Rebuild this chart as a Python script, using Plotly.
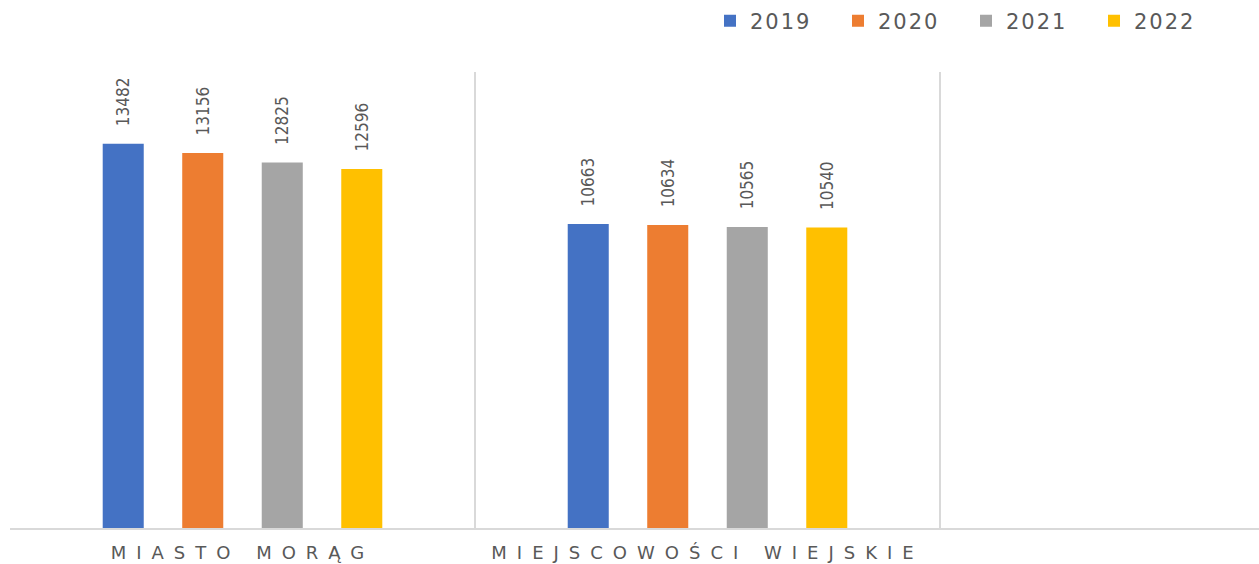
import plotly.graph_objects as go

categories = ["MIASTO MORĄG", "MIEJSCOWOŚCI WIEJSKIE"]
years = ["2019", "2020", "2021", "2022"]
values_2019 = [13482, 10663]
values_2020 = [13156, 10634]
values_2021 = [12825, 10565]
values_2022 = [12596, 10540]
series = [values_2019, values_2020, values_2021, values_2022]
colors = ["#4472C4", "#ED7D31", "#A5A5A5", "#FFC000"]

W, H = 1259, 564
TEXT = "#595959"

fig = go.Figure()
for name, vals, col in zip(years, series, colors):
    fig.add_trace(go.Bar(
        x=categories, y=vals,
        name='<span style="letter-spacing:2px">%s</span>' % name,
        marker=dict(color=col, line=dict(width=0)),
        texttemplate="\u00a0\u00a0\u00a0%{y:d}",
        textposition="outside", textangle=-90, constraintext="none",
        textfont=dict(family="DejaVu Sans Condensed, Liberation Sans Narrow, sans-serif",
                      size=17, color=TEXT),
        cliponaxis=False,
    ))

ticktext = ['<span style="letter-spacing:10px">%s</span>' % c for c in categories]

fig.update_layout(
    width=W, height=H,
    barmode="group", bargap=0.316, bargroupgap=0.484,
    plot_bgcolor="white", paper_bgcolor="white",
    margin=dict(l=10, r=0, t=72, b=36, autoexpand=False),
    showlegend=True,
    legend=dict(orientation="h", xref="container", yref="container",
                x=710 / W, xanchor="left", y=1 - 21 / H, yanchor="middle",
                font=dict(family="DejaVu Sans, sans-serif", size=21, color=TEXT),
                entrywidthmode="pixels", entrywidth=83,
                bgcolor="rgba(0,0,0,0)", traceorder="normal"),
    xaxis=dict(categoryorder="array", categoryarray=categories,
               tickmode="array", tickvals=categories, ticktext=ticktext,
               range=[-0.5, 2.186], tickson="boundaries", ticks="",
               showgrid=True, gridcolor="#D9D9D9", gridwidth=1.5,
               showline=True, linecolor="#D9D9D9", linewidth=1.5,
               tickfont=dict(family="DejaVu Sans, sans-serif", size=18, color=TEXT),
               ticklabelstandoff=8, zeroline=False, fixedrange=True, automargin=False),
    yaxis=dict(range=[0, 16000], visible=False, showgrid=False, zeroline=False, fixedrange=True),
)

fig.write_html("out.html", config={"displayModeBar": False, "staticPlot": True},
               post_script="document.body.style.margin='0';document.body.style.overflow='hidden';")
